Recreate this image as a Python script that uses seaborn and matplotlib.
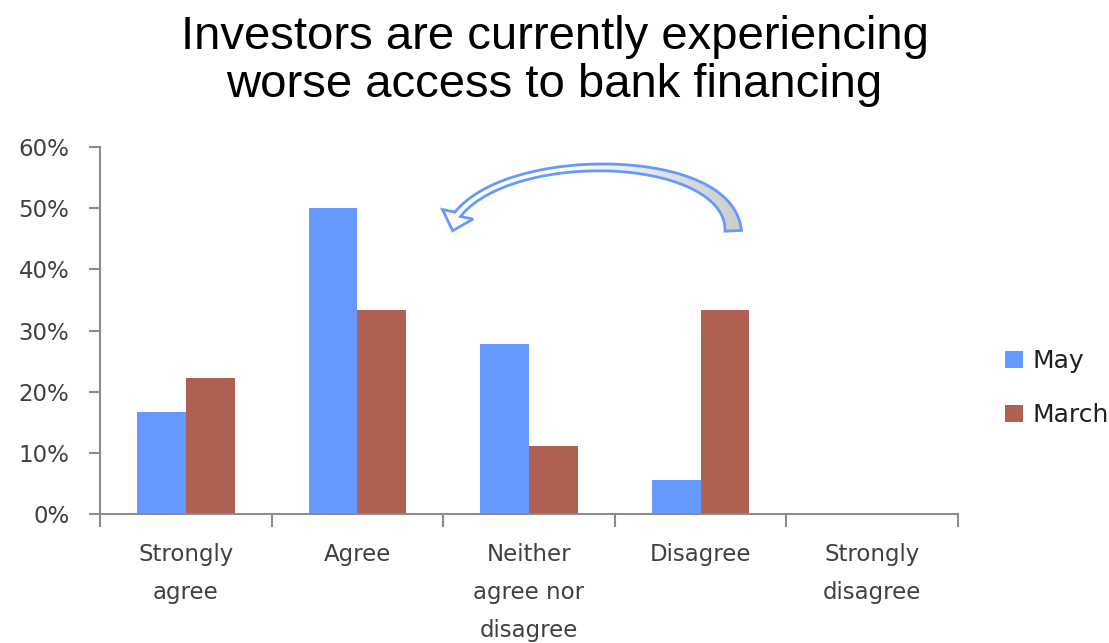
import numpy as np
import pandas as pd
import matplotlib
matplotlib.use("Agg")
import matplotlib.pyplot as plt
import seaborn as sns
from matplotlib.patches import Patch, Polygon
from matplotlib.colors import LinearSegmentedColormap
from matplotlib.transforms import IdentityTransform

# Survey responses (share of investors)
categories = ["Strongly\nagree", "Agree", "Neither\nagree nor\ndisagree", "Disagree", "Strongly\ndisagree"]
may = [0.167, 0.500, 0.278, 0.056, 0.0]
march = [0.222, 0.333, 0.111, 0.333, 0.0]
series = ["May", "March"]
colors = ["#6699FF", "#B06050"]
y_ticks = [0.0, 0.1, 0.2, 0.3, 0.4, 0.5, 0.6]
title = "Investors are currently experiencing\nworse access to bank financing"

df = pd.DataFrame({
    "category": categories * 2,
    "share": may + march,
    "period": [series[0]] * len(categories) + [series[1]] * len(categories),
})

sns.set_style("white")
plt.rcParams["font.family"] = ["DejaVu Sans"]

fig = plt.figure(figsize=(11.09, 6.43), dpi=100)
ax = fig.add_axes([0.0902, 0.2006, 0.7736, 0.5708])

sns.barplot(data=df, x="category", y="share", hue="period", hue_order=series,
            palette=colors, width=0.57, saturation=1, ax=ax, legend=False,
            edgecolor="none", linewidth=0)

axis_col = "#8C8C8C"
ax.set_xlim(-0.5, len(categories) - 0.5)
ax.set_ylim(0, 0.6)
ax.set_yticks(y_ticks)
ax.set_yticklabels([f"{int(round(t * 100))}%" for t in y_ticks])
ax.set_xlabel("")
ax.set_ylabel("")
for s in ["top", "right"]:
    ax.spines[s].set_visible(False)
for s in ["left", "bottom"]:
    ax.spines[s].set_color(axis_col)
    ax.spines[s].set_linewidth(1.5)

ax.tick_params(axis="y", which="major", direction="out", length=8, width=1.5,
               color=axis_col, labelsize=16.5, labelcolor="#404040", pad=14, left=True)
ax.tick_params(axis="x", which="major", length=0, labelsize=16.5,
               labelcolor="#404040", pad=21)
ax.set_xticks(np.arange(-0.5, len(categories)), minor=True)
ax.tick_params(axis="x", which="minor", direction="out", length=9, width=1.5,
               color=axis_col, bottom=True)
for lbl in ax.get_xticklabels():
    lbl.set_linespacing(1.82)
    lbl.set_verticalalignment("top")

fig.text(0.5, 0.905, title, ha="center", va="center", fontsize=34,
         family="Liberation Sans", color="#000000", linespacing=1.12)

# Curved block arrow from "Disagree" back over to "Agree", built in pixel space
def to_px(x, y):
    return ax.transData.transform((x, y))

p0 = to_px(3.19, 0.463)     # tail base
p1 = to_px(3.17, 0.592)
p2 = to_px(1.90, 0.600)
p3 = to_px(1.585, 0.490)    # head base centre
tip = to_px(1.555, 0.463)   # head tip

t = np.linspace(0, 1, 200)[:, None]
curve = ((1 - t) ** 3) * p0 + 3 * ((1 - t) ** 2) * t * p1 + 3 * (1 - t) * t ** 2 * p2 + t ** 3 * p3
deriv = 3 * ((1 - t) ** 2) * (p1 - p0) + 6 * (1 - t) * t * (p2 - p1) + 3 * t ** 2 * (p3 - p2)
tang = deriv / np.linalg.norm(deriv, axis=1, keepdims=True)
normal = np.column_stack([-tang[:, 1], tang[:, 0]])
half_w = (4.0 + 12.5 * (1 - t[:, 0]) ** 3 + 3.0 * t[:, 0]) / 2
left = curve + normal * half_w[:, None]
right = curve - normal * half_w[:, None]

head_dir = (tip - p3) / np.linalg.norm(tip - p3)
head_n = np.array([-head_dir[1], head_dir[0]])
head_half = 16.0
hb1 = p3 + head_n * head_half
hb2 = p3 - head_n * head_half
if np.dot(hb1 - p3, normal[-1]) < 0:
    hb1, hb2 = hb2, hb1
pts = np.vstack([left, [hb1], [tip], [hb2], right[::-1]])
arrow = Polygon(pts, closed=True, transform=IdentityTransform(), facecolor="none",
                edgecolor="#6699FF", linewidth=2, joinstyle="miter", zorder=5)
ax.add_patch(arrow)

# Grey-to-white shading inside the arrow
grad = np.linspace(0, 1, 256).reshape(1, -1)
grad = np.clip((grad - 0.42) / 0.5, 0, 1)
fade = LinearSegmentedColormap.from_list("fade", ["#FFFFFF", "#CCCCCC"])
fill = ax.imshow(grad, extent=(1.3, 3.4, 0.40, 0.62), cmap=fade, aspect="auto",
                 zorder=4, interpolation="bilinear")
fill.set_clip_path(arrow)
ax.set_xlim(-0.5, len(categories) - 0.5)
ax.set_ylim(0, 0.6)

handles = [Patch(facecolor=c, edgecolor="none") for c in colors]
fig.legend(handles, series, loc="center left", bbox_to_anchor=(0.886, 0.396),
           frameon=False, fontsize=18, handlelength=0.7, handleheight=0.7,
           handletextpad=0.4, labelspacing=1.2, labelcolor="#202020")

fig.savefig("out.png", dpi=100, facecolor="white")
